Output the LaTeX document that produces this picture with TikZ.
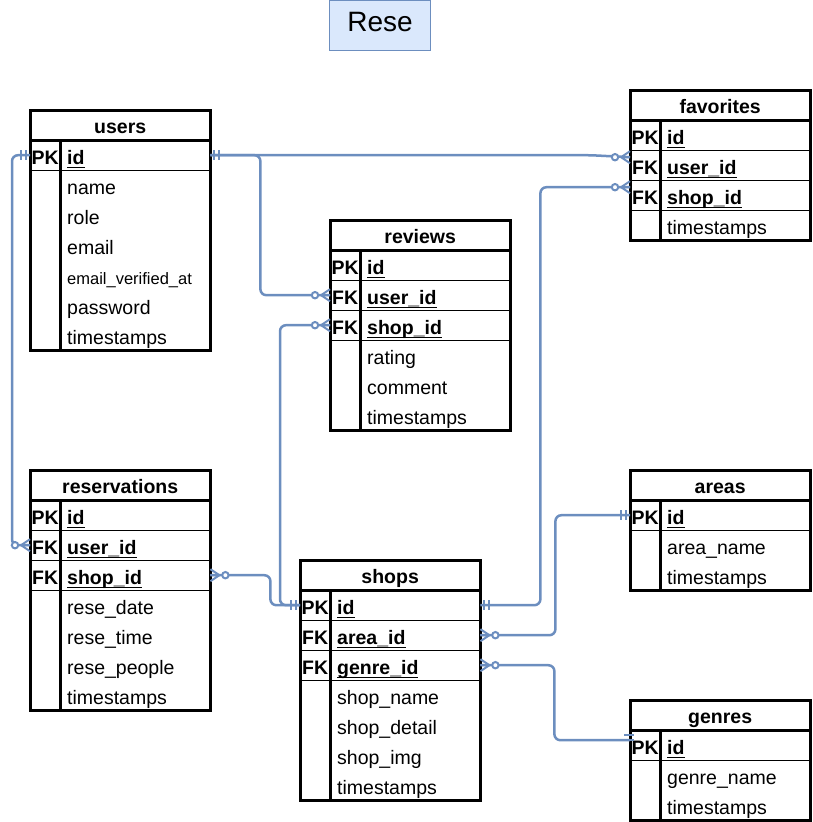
\documentclass[tikz,border=0pt]{standalone}
\usepackage{fontspec}
\setmainfont{Liberation Sans}
\usetikzlibrary{calc}
\definecolor{connc}{HTML}{6C8EBF}
\definecolor{titlefill}{HTML}{DAE8FC}
\newcommand\basefont{\fontsize{19.5}{22}\selectfont}
\newcommand\smallf{\fontsize{16.5}{18}\selectfont}
\newsavebox\ulbox
\newcommand\keyn[1]{\sbox\ulbox{\bfseries #1}\rlap{\rule[-4pt]{\wd\ulbox}{1.5pt}}\usebox\ulbox}
\tikzset{
  hdr/.style={rectangle, anchor=north west, minimum width=180pt, minimum height=30pt, inner sep=0pt, font=\basefont\bfseries, text height=19pt, text depth=3pt},
  keycell/.style={rectangle, anchor=north west, minimum width=30pt, minimum height=30pt, inner sep=0pt, font=\basefont\bfseries, text height=20pt, text depth=2pt},
  namecell/.style={rectangle, anchor=north west, minimum height=30pt, inner ysep=0pt, inner xsep=7pt, text width=136pt, align=left, font=\basefont, text height=20pt, text depth=2pt},
  rowline/.style={draw=black, line width=1pt},
  divline/.style={draw=black, line width=2.5pt},
  frameline/.style={draw=black, line width=3pt},
  conn/.style={draw=connc, line width=2.5pt, rounded corners=6pt},
  mk/.style={draw=connc, line width=2pt},
  titlebox/.style={rectangle, draw=connc, fill=titlefill, line width=1pt, minimum width=101pt, minimum height=50pt, inner sep=0pt, font=\fontsize{28}{32}\selectfont, text height=20pt, text depth=6.6pt}
}
\newcommand\ertable[7]{%
  \node[hdr] (#1-h) at (#2,#3) {#4};
  \foreach \k/\n [count=\i] in {#7} {
    \node[keycell] (#1-k\i) at ({#2},{#3+30*\i}) {\k};
    \node[namecell] (#1-n\i) at ({#2+30},{#3+30*\i}) {\n};
  }
  \foreach \j in {1,...,#6} \draw[rowline] (#1-k\j.south west) -- (#1-n\j.south east);
  \draw[divline] (#1-k1.north east) -- (#1-k#5.south east);
  \draw[frameline] (#1-h.south west) -- (#1-h.south east);
  \draw[frameline] (#1-h.north west) rectangle (#1-n#5.south east);
}
\newcommand\onemk[2]{\begin{scope}[shift={(#1)},xscale=#2]\draw[mk] (4,-5)--(4,5) (9,-5)--(9,5);\end{scope}}
\newcommand\manymk[2]{\begin{scope}[shift={(#1)},xscale=#2]\draw[mk] (9,0)--(0,-6) (9,0)--(0,0) (9,0)--(0,6); \draw[mk,fill=white] (15,0) circle[radius=3.2];\end{scope}}
\begin{document}
\begin{tikzpicture}[x=1pt,y=-1pt]
\useasboundingbox (0,0) rectangle (812,822);
\node[titlebox] (title) at (380,25) {Rese};

\ertable{users}{30}{110}{users}{7}{1}{PK/\keyn{id}, /name, /role, /email, /{\smallf email\_verified\_at}, /password, /timestamps}
\ertable{fav}{630}{90}{favorites}{4}{3}{PK/\keyn{id}, FK/\keyn{user\_id}, FK/\keyn{shop\_id}, /timestamps}
\ertable{rev}{330}{220}{reviews}{6}{3}{PK/\keyn{id}, FK/\keyn{user\_id}, FK/\keyn{shop\_id}, /rating, /comment, /timestamps}
\ertable{res}{30}{470}{reservations}{7}{3}{PK/\keyn{id}, FK/\keyn{user\_id}, FK/\keyn{shop\_id}, /rese\_date, /rese\_time, /rese\_people, /timestamps}
\ertable{shops}{300}{560}{shops}{7}{3}{PK/\keyn{id}, FK/\keyn{area\_id}, FK/\keyn{genre\_id}, /shop\_name, /shop\_detail, /shop\_img, /timestamps}
\ertable{areas}{630}{470}{areas}{3}{1}{PK/\keyn{id}, /area\_name, /timestamps}
\ertable{genres}{630}{700}{genres}{3}{1}{PK/\keyn{id}, /genre\_name, /timestamps}

\draw[conn] (users-n1.east) -- ++(380,0) -- ([yshift=8pt]fav-k2.west);
\draw[conn] (users-n1.east) -- ++(50,0) |- (rev-k2.west);
\draw[conn] (users-k1.west) -- ++(-18,0) |- (res-k2.west);
\draw[conn] (shops-k1.west) -- ++(-20,0) |- (rev-k3.west);
\draw[conn] (res-n3.east) -- ++(60,0) |- (shops-k1.west);
\draw[conn] (shops-n1.east) -- ++(60,0) |- ([yshift=8pt]fav-k3.west);
\draw[conn] (shops-n2.east) -- ++(75,0) |- (areas-k1.west);
\draw[conn] (shops-n3.east) -- ++(74,0) |- ([yshift=5pt]genres-k1.west);

\onemk{users-n1.east}{1}
\onemk{users-k1.west}{-1}
\manymk{[yshift=8pt]fav-k2.west}{-1}
\manymk{rev-k2.west}{-1}
\manymk{res-k2.west}{-1}
\onemk{shops-k1.west}{-1}
\manymk{rev-k3.west}{-1}
\manymk{res-n3.east}{1}
\onemk{shops-n1.east}{1}
\manymk{[yshift=8pt]fav-k3.west}{-1}
\manymk{shops-n2.east}{1}
\onemk{areas-k1.west}{-1}
\manymk{shops-n3.east}{1}
\begin{scope}[shift={([yshift=5pt]genres-k1.west)}]
  \draw[mk] (-6,-5)--(4,-5) (-6,0)--(4,0);
\end{scope}
\end{tikzpicture}
\end{document}
